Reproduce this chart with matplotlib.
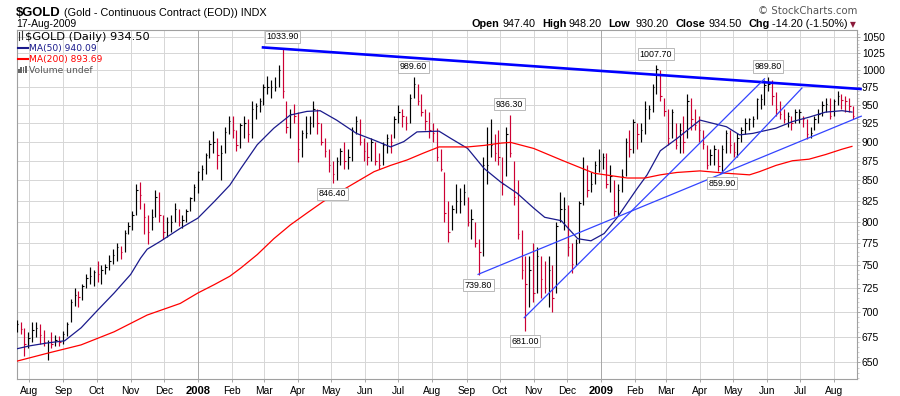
import matplotlib
matplotlib.use("Agg")
import matplotlib.pyplot as plt
import matplotlib.dates as mdates
from matplotlib.lines import Line2D
from matplotlib.patches import Rectangle
from matplotlib.ticker import FixedLocator, FixedFormatter, NullFormatter
import numpy as np
import pandas as pd

W, H = 900, 396
NA = float('nan')

# one entry per trading week (the Wednesday of that week)
weeks = [
    '2007-07-18', '2007-07-25', '2007-08-01', '2007-08-08', '2007-08-15', '2007-08-22', '2007-08-29',
    '2007-09-05', '2007-09-12', '2007-09-19', '2007-09-26', '2007-10-03', '2007-10-10', '2007-10-17',
    '2007-10-24', '2007-10-31', '2007-11-07', '2007-11-14', '2007-11-21', '2007-11-28', '2007-12-05',
    '2007-12-12', '2007-12-19', '2007-12-26',
    '2008-01-02', '2008-01-09', '2008-01-16', '2008-01-23', '2008-01-30', '2008-02-06', '2008-02-13',
    '2008-02-20', '2008-02-27', '2008-03-05', '2008-03-12', '2008-03-19', '2008-03-26', '2008-04-02',
    '2008-04-09', '2008-04-16', '2008-04-23', '2008-04-30', '2008-05-07', '2008-05-14', '2008-05-21',
    '2008-05-28', '2008-06-04', '2008-06-11', '2008-06-18', '2008-06-25', '2008-07-02', '2008-07-09',
    '2008-07-16', '2008-07-23', '2008-07-30', '2008-08-06', '2008-08-13', '2008-08-20', '2008-08-27',
    '2008-09-03', '2008-09-10', '2008-09-17', '2008-09-24', '2008-10-01', '2008-10-08', '2008-10-15',
    '2008-10-22', '2008-10-29', '2008-11-05', '2008-11-12', '2008-11-19', '2008-11-26', '2008-12-03',
    '2008-12-10', '2008-12-17', '2008-12-24', '2008-12-31',
    '2009-01-07', '2009-01-14', '2009-01-21', '2009-01-28', '2009-02-04', '2009-02-11', '2009-02-18',
    '2009-02-25', '2009-03-04', '2009-03-11', '2009-03-18', '2009-03-25', '2009-04-01', '2009-04-08',
    '2009-04-15', '2009-04-22', '2009-04-29', '2009-05-06', '2009-05-13', '2009-05-20', '2009-05-27',
    '2009-06-03', '2009-06-10', '2009-06-17', '2009-06-24', '2009-07-01', '2009-07-08', '2009-07-15',
    '2009-07-22', '2009-07-29', '2009-08-05', '2009-08-12', '2009-08-19',
]

# Mon-Wed part of each week
early_high = [
    NA, 690, 680, 690, 682, 680, 676, 690, 725, 730, 748, 755, 752, 768, 772, 800, 845, 822, 815, 835,
    805, 822, 808, 830,
    862, 885, 914, 895, 935, 915, 935, 955, 960, 992, 990, 1033.9, 945, 940, 935, 955, 925, 890, 880, 900,
    920, 930, 900, 900, 900, 910, 950, 935, 989.6, 965, 940, 918, 860, 820, 840, 830, 800, 880, 930, 915,
    920, 875, 790, 760, 770, 755, 750, 835, 820, 780, 880, 860, 890,
    885, 850, 865, 915, 925, 955, 980, 1000, 945, 925, 935, 960, 935, 895, 895, 895, 915, 912, 932, 935,
    965, 989.8, 968, 945, 935, 945, 930, 935, 955, 960, 970, 962, 948.2,
]
early_low = [
    NA, 678, 664, 675, 666, 664, 666, 676, 706, 713, 730, 732, 740, 752, 757, 785, 808, 785, 790, 800,
    782, 800, 792, 812,
    834, 858, 885, 850, 910, 888, 905, 905, 940, 965, 970, 960, 905, 873, 905, 920, 895, 860, 850, 865,
    875, 895, 870, 870, 870, 885, 925, 915, 960, 935, 905, 875, 800, 790, 810, 795, 770, 760, 880, 870,
    855, 820, 735, 705, 720, 720, 700, 800, 760, 750, 820, 835, 860,
    840, 806, 835, 880, 890, 910, 940, 955, 895, 890, 885, 915, 900, 864, 870, 859.9, 885, 880, 910, 920,
    945, 970, 935, 925, 915, 925, 904, 915, 935, 930, 950, 940, 930.2,
]
early_close = [
    NA, 683, 674, 684, 670, 668, 670, 688, 718, 728, 738, 740, 748, 762, 765, 795, 838, 805, 805, 808,
    800, 815, 802, 828,
    860, 882, 900, 885, 928, 895, 925, 945, 955, 975, 975, 970, 938, 890, 912, 945, 900, 870, 875, 875,
    915, 900, 880, 875, 895, 900, 940, 925, 980, 940, 915, 880, 810, 815, 825, 800, 775, 870, 895, 880,
    910, 830, 745, 745, 760, 725, 715, 815, 770, 775, 865, 845, 875,
    845, 812, 855, 890, 910, 945, 975, 962, 905, 895, 900, 930, 915, 870, 890, 890, 895, 905, 925, 930,
    958, 980, 945, 930, 925, 940, 910, 930, 950, 935, 962, 955, 934.5,
]
# Thu-Fri part of each week
late_high = [
    692, 684, 690, 688, 672, 677, 681, 714, 722, 740, 745, 750, 762, 775, 790, 812, 848, 808, 838, 808,
    808, 815, 815, 845,
    870, 902, 905, 920, 935, 925, 930, 953, 980, 985, 1007, 955, 952, 915, 935, 945, 905, 875, 892, 890,
    935, 905, 905, 885, 910, 935, 945, 965, 980, 945, 925, 890, 825, 845, 845, 815, 780, 920, 910, 880,
    936.3, 850, 760, 775, 760, 760, 800, 830, 775, 825, 870, 875, 885,
    870, 845, 905, 930, 925, 950, 1007.7, 960, 945, 925, 965, 945, 915, 890, 890, 915, 900, 920, 932, 960,
    985, 985, 955, 940, 945, 935, 920, 945, 960, 958, 965, 960, NA,
]
late_low = [
    680, 656, 670, 668, 652, 666, 668, 690, 705, 725, 727, 730, 745, 755, 765, 790, 815, 774, 805, 780,
    788, 795, 800, 825,
    850, 878, 865, 885, 905, 892, 900, 930, 950, 960, 975, 912, 925, 880, 910, 910, 880, 846.4, 870, 865,
    910, 875, 875, 865, 885, 905, 920, 925, 950, 915, 900, 862, 776, 810, 820, 780, 739.8, 845, 875, 832,
    880, 780, 681, 710, 715, 705, 720, 790, 742, 775, 830, 845, 865,
    835, 808, 855, 885, 900, 930, 965, 935, 905, 885, 905, 915, 890, 870, 862, 885, 880, 900, 915, 930,
    950, 950, 930, 920, 925, 920, 905, 925, 940, 935, 945, 940, NA,
]
late_close = [
    688, 668, 682, 677, 670, 672, 678, 710, 716, 736, 743, 745, 755, 770, 787, 808, 832, 788, 830, 788,
    800, 800, 812, 842,
    865, 897, 882, 913, 915, 922, 910, 948, 975, 975, 1000, 920, 935, 912, 925, 925, 887, 858, 888, 880,
    928, 887, 900, 870, 905, 930, 935, 960, 955, 928, 912, 865, 788, 825, 835, 803, 765, 870, 885, 845,
    885, 785, 730, 720, 735, 745, 795, 815, 752, 822, 838, 870, 880,
    855, 838, 900, 927, 915, 945, 1002, 942, 940, 915, 955, 922, 897, 883, 868, 912, 886, 915, 930, 958,
    978, 962, 938, 935, 940, 930, 912, 937, 952, 955, 957, 948, NA,
]

ma50_dates = [
    '2007-07-20', '2007-08-01', '2007-08-18', '2007-09-02', '2007-09-17', '2007-10-02', '2007-10-17',
    '2007-11-01', '2007-11-10', '2007-11-16', '2007-11-28', '2007-12-16', '2008-01-01', '2008-01-16',
    '2008-01-30', '2008-02-09', '2008-02-24', '2008-03-10', '2008-03-25', '2008-04-09', '2008-04-21',
    '2008-05-06', '2008-05-24', '2008-06-09', '2008-06-24', '2008-07-06', '2008-07-18', '2008-08-07',
    '2008-08-18', '2008-09-02', '2008-09-17', '2008-10-02', '2008-10-17', '2008-11-01', '2008-11-11',
    '2008-11-26', '2008-12-11', '2008-12-23', '2009-01-04', '2009-01-16', '2009-02-03', '2009-02-12',
    '2009-02-24', '2009-03-11', '2009-04-01', '2009-04-25', '2009-05-07', '2009-05-19', '2009-06-09',
    '2009-06-24', '2009-07-09', '2009-07-24', '2009-08-08', '2009-08-17',
]
ma50_values = [
    663, 666, 669, 671, 684, 702, 720, 740, 758, 768, 777, 792, 804, 824, 844, 865, 896, 918, 936, 941,
    942, 929, 911, 902, 893, 900, 913, 914, 904, 891, 865, 848, 834, 816, 805, 801, 780, 777.6, 786, 805,
    840, 857, 888, 904, 929, 920, 909, 911, 918, 927, 933, 940, 942, 940.09,
]

ma200_dates = [
    '2007-07-20', '2007-08-18', '2007-09-17', '2007-10-17', '2007-11-16', '2007-12-16', '2008-01-01',
    '2008-01-16', '2008-01-30', '2008-02-09', '2008-02-24', '2008-03-10', '2008-03-25', '2008-04-09',
    '2008-04-24', '2008-05-09', '2008-05-24', '2008-06-09', '2008-06-24', '2008-07-09', '2008-07-24',
    '2008-08-07', '2008-09-02', '2008-09-17', '2008-10-02', '2008-10-11', '2008-11-01', '2008-11-26',
    '2008-12-17', '2008-12-26', '2009-01-25', '2009-02-10', '2009-02-24', '2009-03-11',
    '2009-04-01', '2009-04-25', '2009-05-16', '2009-05-25', '2009-06-09', '2009-06-24', '2009-07-09',
    '2009-07-24', '2009-08-08', '2009-08-17',
]
ma200_values = [
    651, 659, 667, 680, 697, 709, 720, 729, 738, 747, 762, 780, 796, 810, 824, 836, 848, 861, 869, 876,
    885, 893, 893, 895, 898, 899, 891, 876, 864, 859, 853, 853, 857, 860,
    862, 859, 857, 861, 869, 875, 877, 883, 890, 893.69,
]

# labelled highs / lows
peak_dates = ['2008-03-18', '2008-07-15', '2008-05-02', '2008-09-12', '2008-10-10',
              '2008-10-24', '2009-02-20', '2009-06-02', '2009-04-21']
peak_prices = [1033.9, 989.6, 846.4, 739.8, 936.3, 681.0, 1007.7, 989.8, 859.9]
peak_above = [True, True, False, False, True, False, True, True, False]

# hand drawn trend lines: (start date, start price, end date, end price, width)
trend_lines = [
    ('2008-02-28', 1034.2, '2009-08-26', 972.5, 1.9),
    ('2008-09-11', 739.8, '2009-08-26', 934.7, 0.9),
    ('2008-10-23', 693.8, '2009-05-30', 988.0, 0.9),
    ('2009-04-19', 857.0, '2009-07-03', 974.6, 0.9),
]

y_ticks = list(range(650, 1051, 25))


def fx(x):
    return x / W


def fy(y):
    return 1 - y / H


fig = plt.figure(figsize=(W / 100, H / 100), dpi=100)
ax = fig.add_axes([fx(16.7), fy(379.3), fx(856.7) - fx(16.7), fy(30.3) - fy(379.3)])

# two bars a week: Mon-Wed drawn on Tuesday, Thu-Fri on Friday noon
wk = mdates.date2num(pd.to_datetime(weeks))
xs, hs, ls, cs = [], [], [], []
for i in range(len(weeks)):
    xs += [wk[i] - 1.0, wk[i] + 2.5]
    hs += [early_high[i], late_high[i]]
    ls += [early_low[i], late_low[i]]
    cs += [early_close[i], late_close[i]]
xs, hs, ls, cs = map(np.array, (xs, hs, ls, cs))
ok = ~np.isnan(cs)
xs, hs, ls, cs = xs[ok], hs[ok], ls[ok], cs[ok]
colors = ['black'] + ['#cc0033' if cs[i] < cs[i - 1] else 'black' for i in range(1, len(cs))]
ax.vlines(xs, ls, hs, colors=colors, lw=0.85, zorder=3)
ax.hlines(cs, xs, xs + 1.3, colors=colors, lw=0.8, zorder=3)

ax.plot(pd.to_datetime(ma50_dates), ma50_values, color='#1a1a8c', lw=0.9, zorder=4)
ax.plot(pd.to_datetime(ma200_dates), ma200_values, color='#ff0000', lw=0.9, zorder=4)

for d0, p0, d1, p1, w in trend_lines:
    ax.plot(pd.to_datetime([d0, d1]), [p0, p1], color='#0000ff' if w > 1 else '#3344ff',
            lw=w, zorder=5, clip_on=False, solid_capstyle='butt')

for dt, p, above in zip(peak_dates, peak_prices, peak_above):
    ax.annotate('%.2f' % p, (mdates.date2num(pd.Timestamp(dt)), p),
                xytext=(0, 7.6 if above else -7.6), textcoords='offset points',
                ha='center', va='center', fontsize=6.4, family='Liberation Sans', zorder=6,
                bbox=dict(boxstyle='square,pad=0.18', fc='white', ec='#b8b8b8', lw=0.7))

ax.set_yscale('log')
ax.set_ylim(634, 1060.5)
ax.set_xlim(mdates.date2num(pd.Timestamp('2007-07-20 12:00')),
            mdates.date2num(pd.Timestamp('2009-08-21 08:00')))

ax.yaxis.set_major_locator(FixedLocator(y_ticks))
ax.yaxis.set_major_formatter(FixedFormatter([str(v) for v in y_ticks]))
ax.yaxis.set_minor_locator(FixedLocator(list(range(635, 1060, 5))))
ax.yaxis.set_minor_formatter(NullFormatter())
ax.yaxis.tick_right()
ax.tick_params(axis='y', which='major', length=2.5, width=0.6, color='#999999', pad=1.2,
               labelsize=7.4, labelcolor='black')
ax.tick_params(axis='y', which='minor', length=1.2, width=0.5, color='#bbbbbb')

months = pd.date_range('2007-08-01', '2009-08-01', freq='MS')
mnum = mdates.date2num(months)
ax.xaxis.set_major_locator(FixedLocator(mnum))
ax.xaxis.set_major_formatter(FixedFormatter([str(m.year) if m.month == 1 else m.strftime('%b') for m in months]))
ax.xaxis.set_minor_locator(FixedLocator([]))
ax.tick_params(axis='x', length=2.5, width=0.6, color='#999999', pad=2, labelsize=7.4)
for lab in ax.get_xticklabels() + ax.get_yticklabels():
    lab.set_family('Liberation Sans')
for lab, m in zip(ax.get_xticklabels(), months):
    if m.month == 1:
        lab.set_fontweight('bold')
        lab.set_fontsize(8)

for v in y_ticks:
    ax.axhline(v, color='#d6d6d6', lw=0.7, zorder=1)
for m, v in zip(months, mnum):
    ax.axvline(v, color='#a8a8a8' if m.month == 1 else '#d6d6d6', lw=0.7, zorder=1)

for s in ax.spines.values():
    s.set_color('#a0a0a0')
    s.set_linewidth(0.8)

# legend block inside the plot
fig.text(fx(25), fy(39.5), '$GOLD (Daily) 934.50', fontsize=8.2, family='DejaVu Sans', va='baseline')
fig.add_artist(Line2D([fx(18.5), fx(18.5)], [fy(32), fy(40)], color='#333333', lw=0.8))
fig.add_artist(Line2D([fx(21.5), fx(21.5)], [fy(31), fy(39)], color='#333333', lw=0.8))
fig.add_artist(Line2D([fx(17.5), fx(28)], [fy(47.7), fy(47.7)], color='#1a1a8c', lw=1.5))
fig.text(fx(29), fy(51.3), 'MA(50) 940.09', fontsize=6.6, family='DejaVu Sans', color='#1a1a8c', va='baseline')
fig.add_artist(Line2D([fx(17.5), fx(28)], [fy(58.7), fy(58.7)], color='#ff0000', lw=1.5))
fig.text(fx(29), fy(62.3), 'MA(200) 893.69', fontsize=6.6, family='DejaVu Sans', color='#ff0000', va='baseline')
for i, hgt in enumerate([4, 6, 5, 7]):
    fig.add_artist(Rectangle((fx(18 + i * 2.4), fy(72.5)), 1.6 / W, hgt / H, color='#666666', lw=0))
fig.text(fx(28.5), fy(72.8), 'Volume undef', fontsize=6.6, family='DejaVu Sans', color='#555555', va='baseline')

# header
fig.text(fx(16), fy(15.5), '$GOLD', fontsize=9.4, fontweight='bold', family='Liberation Sans', va='baseline')
fig.text(fx(64), fy(15.5), '(Gold - Continuous Contract (EOD)) INDX', fontsize=7.8,
         family='Liberation Sans', va='baseline')
fig.text(fx(16), fy(27.3), '17-Aug-2009', fontsize=7.5, family='Liberation Sans', va='baseline')
fig.text(fx(857), fy(14.5), '\u00a9 StockCharts.com', fontsize=7.3, family='DejaVu Sans',
         color='#555555', ha='right', va='baseline')

quote = [('Open', True, 471.7), ('947.40', False, 502.7), ('High', True, 542.7), ('948.20', False, 568.7),
         ('Low', True, 608.3), ('930.20', False, 635), ('Close', True, 675), ('934.50', False, 708.3),
         ('Chg', True, 748.3), ('-14.20 (-1.50%)', False, 772)]
for s, bold, x in quote:
    fig.text(fx(x), fy(27.3), s, fontsize=7.8, family='Liberation Sans',
             fontweight='bold' if bold else 'normal', va='baseline')
fig.text(fx(853), fy(27.3), '\u25bc', fontsize=5.5, family='DejaVu Sans', color='#8b1a3a',
         ha='center', va='baseline')

fig.savefig('out.png', dpi=100)
